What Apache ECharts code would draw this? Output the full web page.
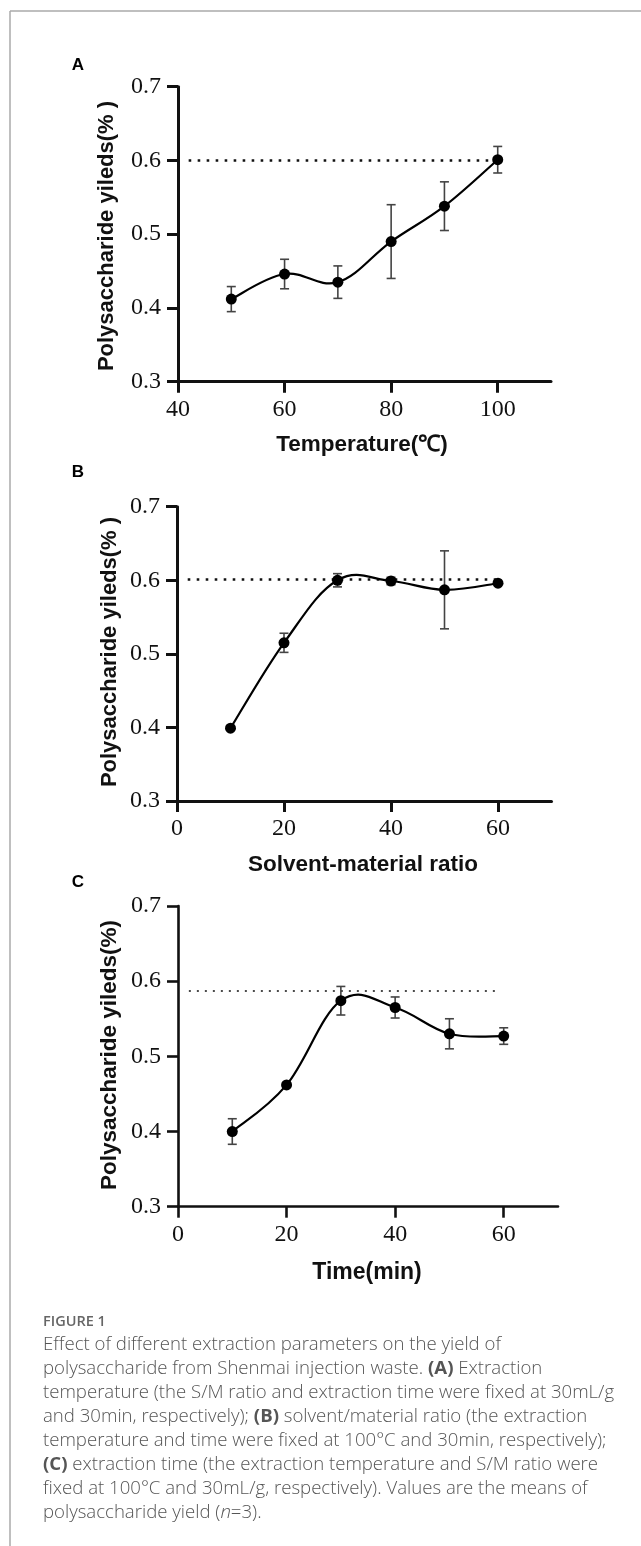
<!DOCTYPE html>
<html>
<head>
<meta charset="utf-8">
<script src="https://cdn.jsdelivr.net/npm/echarts@6/dist/echarts.min.js"></script>
<style>
html,body{margin:0;padding:0;background:#fff;}
#chart{width:641px;height:1546px;}
</style>
</head>
<body>
<div id="chart"></div>
<script>
// ---- data ----
const tempX   = [50, 60, 70, 80, 90, 100];
const tempY   = [0.412, 0.446, 0.435, 0.490, 0.538, 0.601];
const tempErr = [0.017, 0.020, 0.022, 0.050, 0.033, 0.018];
const tempRef = 0.600;

const ratioX   = [10, 20, 30, 40, 50, 60];
const ratioY   = [0.399, 0.515, 0.600, 0.599, 0.587, 0.596];
const ratioErr = [0, 0.013, 0.009, 0.005, 0.053, 0];
const ratioRef = 0.601;

const timeX   = [10, 20, 30, 40, 50, 60];
const timeY   = [0.400, 0.462, 0.574, 0.565, 0.530, 0.527];
const timeErr = [0.017, 0, 0.019, 0.014, 0.020, 0.011];
const timeRef = 0.587;

const yTicks      = [0.3, 0.4, 0.5, 0.6, 0.7];
const tempTicks   = [40, 60, 80, 100];
const ratioTicks  = [0, 20, 40, 60];
const timeTicks   = [0, 20, 40, 60];

const panelLetters = ['A', 'B', 'C'];
const xTitles = ['Temperature(\u2103)', 'Solvent-material ratio', 'Time(min)'];
const yTitles = ['Polysaccharide yileds(% )', 'Polysaccharide yileds(% )', 'Polysaccharide yileds(%)'];

const captionHead = 'FIGURE 1';
const captionLines = [
  'Effect of different extraction parameters on the yield of',
  'polysaccharide from Shenmai injection waste. {b|(A)} Extraction',
  'temperature (the S/M ratio and extraction time were fixed at 30mL/g',
  'and 30min, respectively); {b|(B)} solvent/material ratio (the extraction',
  'temperature and time were fixed at 100\u00B0C and 30min, respectively);',
  '{b|(C)} extraction time (the extraction temperature and S/M ratio were',
  'fixed at 100\u00B0C and 30mL/g, respectively). Values are the means of',
  'polysaccharide yield ({i|n}=3).'
];

// ---- layout ----
const grids = [
  {left: 178, top: 86.7, width: 373, height: 295},
  {left: 177, top: 506.7, width: 374.5, height: 294.3},
  {left: 178, top: 906, width: 380, height: 300.7}
];
const xRanges = [[40, 110], [0, 70], [0, 70]];
const xTickSets = [tempTicks, ratioTicks, timeTicks];
const refRanges = [[42, 100], [2, 60], [2, 59]];
const panels = [
  {x: tempX, y: tempY, e: tempErr, ref: tempRef},
  {x: ratioX, y: ratioY, e: ratioErr, ref: ratioRef},
  {x: timeX, y: timeY, e: timeErr, ref: timeRef}
];

const TENSION = 0.56; // Catmull-Rom style tangent scale for the fitted curve

const tickFont = 'Liberation Serif';
const xAxes = [], yAxes = [], series = [];
panels.forEach((p, i) => {
  const axW = i === 2 ? 2.6 : 3;
  xAxes.push({
    type: 'value', gridIndex: i, min: xRanges[i][0], max: xRanges[i][1],
    axisLine: {show: true, onZero: false, lineStyle: {color: '#111', width: axW}},
    axisTick: {show: true, length: 11, lineStyle: {color: '#111', width: axW}, customValues: xTickSets[i]},
    axisLabel: {customValues: xTickSets[i], margin: 16, fontFamily: tickFont, fontSize: 24, color: '#111'},
    splitLine: {show: false}
  });
  yAxes.push({
    type: 'value', gridIndex: i, min: 0.3, max: 0.7,
    axisLine: {show: true, onZero: false, lineStyle: {color: '#111', width: axW}},
    axisTick: {show: true, length: 11, lineStyle: {color: '#111', width: axW}, customValues: yTicks},
    axisLabel: {customValues: yTicks, margin: 17, fontFamily: tickFont, fontSize: 24, color: '#111',
      formatter: v => v.toFixed(1)},
    splitLine: {show: false}
  });
  // reference dotted line
  series.push({
    type: 'line', xAxisIndex: i, yAxisIndex: i, symbol: 'none', silent: true, z: 1,
    data: [[refRanges[i][0], p.ref], [refRanges[i][1], p.ref]],
    lineStyle: i === 2 ? {color: '#111', width: 1.6, type: [2, 6]} : {color: '#111', width: 2.6, type: [2.6, 6.4]}
  });
  // error bars
  series.push({
    type: 'custom', xAxisIndex: i, yAxisIndex: i, z: 2, silent: true,
    data: p.x.map((x, k) => [x, p.y[k], p.e[k]]),
    renderItem: (params, api) => {
      const x = api.value(0), y = api.value(1), e = api.value(2);
      if (!e) return null;
      const t = api.coord([x, y + e]), b = api.coord([x, y - e]);
      const w = 4.5;
      const st = {stroke: '#444', lineWidth: 1.6};
      return {type: 'group', children: [
        {type: 'line', shape: {x1: t[0], y1: t[1], x2: b[0], y2: b[1]}, style: st},
        {type: 'line', shape: {x1: t[0] - w, y1: t[1], x2: t[0] + w, y2: t[1]}, style: st},
        {type: 'line', shape: {x1: b[0] - w, y1: b[1], x2: b[0] + w, y2: b[1]}, style: st}
      ]};
    }
  });
  // smooth curve through the data points (one cubic segment per data interval)
  series.push({
    type: 'custom', xAxisIndex: i, yAxisIndex: i, z: 3, silent: true,
    data: p.x.map((x, k) => [x, p.y[k]]),
    renderItem: (params, api) => {
      const k = params.dataIndex, n = p.x.length;
      if (k >= n - 1) return null;
      const P = j => api.coord([p.x[Math.max(0, Math.min(n - 1, j))], p.y[Math.max(0, Math.min(n - 1, j))]]);
      const p0 = P(k - 1), p1 = P(k), p2 = P(k + 1), p3 = P(k + 2);
      const c = TENSION / 3;
      return {
        type: 'bezierCurve',
        shape: {
          x1: p1[0], y1: p1[1], x2: p2[0], y2: p2[1],
          cpx1: p1[0] + c * (p2[0] - p0[0]), cpy1: p1[1] + c * (p2[1] - p0[1]),
          cpx2: p2[0] - c * (p3[0] - p1[0]), cpy2: p2[1] - c * (p3[1] - p1[1])
        },
        style: {stroke: '#000', lineWidth: 2.2, fill: null}
      };
    }
  });
  // data points
  series.push({
    type: 'scatter', xAxisIndex: i, yAxisIndex: i, z: 4, silent: true,
    data: p.x.map((x, k) => [x, p.y[k]]),
    symbol: 'circle', symbolSize: 11,
    itemStyle: {color: '#000', opacity: 1}
  });
});

const titleFont = 'Liberation Sans';
const graphic = [
  {type: 'line', shape: {x1: 10, y1: 11, x2: 641, y2: 11}, style: {stroke: '#aaa', lineWidth: 1.5}},
  {type: 'line', shape: {x1: 10, y1: 11, x2: 10, y2: 1546}, style: {stroke: '#aaa', lineWidth: 1.5}}
];
const letterPos = [[78, 65], [78, 472], [78, 882]];
const xTitlePos = [[362, 445], [363, 865], [367, 1273]];
const yTitlePos = [[107, 236], [110, 652], [110, 1055]];
const yTitleSize = [22, 22, 22.5];
const xTitleSize = [22.5, 22.5, 23];
panelLetters.forEach((L, i) => {
  graphic.push({type: 'text', x: letterPos[i][0], y: letterPos[i][1],
    style: {text: L, font: 'bold 17px ' + titleFont, fill: '#000', textAlign: 'center', textVerticalAlign: 'middle'}});
  graphic.push({type: 'text', x: xTitlePos[i][0], y: xTitlePos[i][1],
    style: {text: xTitles[i], font: 'bold ' + xTitleSize[i] + 'px ' + titleFont, fill: '#111', textAlign: 'center', textVerticalAlign: 'middle'}});
  graphic.push({type: 'text', x: yTitlePos[i][0], y: yTitlePos[i][1], rotation: Math.PI / 2,
    style: {text: yTitles[i], font: 'bold ' + yTitleSize[i] + 'px ' + titleFont, fill: '#111', textAlign: 'center', textVerticalAlign: 'middle'}});
});
graphic.push({type: 'text', x: 43, y: 1322,
  style: {text: captionHead, font: '600 14.5px "Open Sans"', fill: '#666', textVerticalAlign: 'middle'}});
captionLines.forEach((ln, k) => {
  graphic.push({type: 'text', x: 43, y: 1345 + k * 24,
    style: {text: ln, font: '300 18.6px "Open Sans"', fill: '#555', textVerticalAlign: 'middle',
      rich: {
        b: {font: '700 18.6px "Open Sans"', fill: '#555'},
        i: {font: 'italic 300 18.6px "Open Sans"', fill: '#555'}
      }}});
});

const chart = echarts.init(document.getElementById('chart'), null, {renderer: 'canvas'});
chart.setOption({
  backgroundColor: '#fff',
  animation: false,
  grid: grids,
  xAxis: xAxes,
  yAxis: yAxes,
  series: series,
  graphic: graphic
});
</script>
</body>
</html>
